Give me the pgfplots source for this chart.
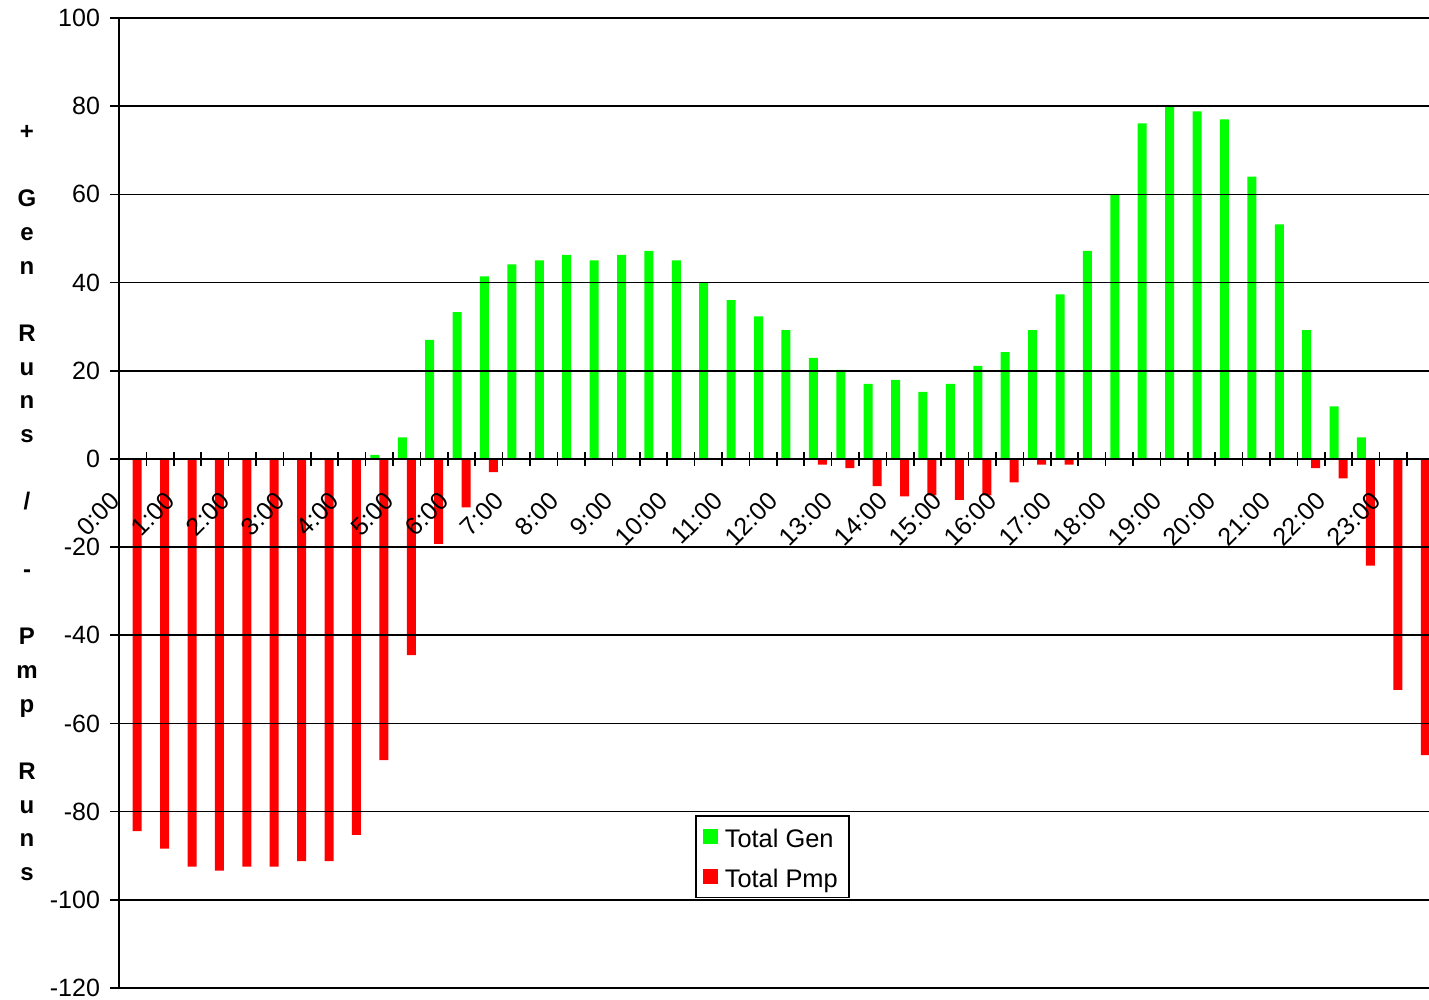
\documentclass[border=0pt]{standalone}
\usepackage{fontspec}
\setmainfont{Liberation Sans}
\usepackage{pgfplots}
\pgfplotsset{compat=1.18}
\definecolor{gen}{RGB}{0,255,0}
\definecolor{pmp}{RGB}{255,0,0}

\begin{document}
\begin{tikzpicture}
\begin{axis}[
  axis on top,
  width=655pt, height=485pt, scale only axis,
  xmin=-0.5, xmax=47.3, ymin=-120, ymax=100,
  axis x line*=middle, axis y line*=left,
  axis line style={black, line width=0.8pt},
  ybar=0pt, bar width=4.5pt,
  ytick={-120,-100,...,100},
  ymajorgrids, major grid style={black, line width=0.8pt},
  xtick={0,2,...,46},
  xticklabels={0:00,1:00,2:00,3:00,4:00,5:00,6:00,7:00,8:00,9:00,10:00,11:00,12:00,13:00,14:00,15:00,16:00,17:00,18:00,19:00,20:00,21:00,22:00,23:00},
  minor xtick={0.5,1.5,...,46.5},
  major x tick style={draw=none},
  minor x tick style={black, line width=0.8pt},
  ytick style={black, line width=0.8pt},
  xtick align=center, ytick align=outside,
  major tick length=4.5pt, minor tick length=7pt,
  /pgf/number format/assume math mode=true,
  tick label style={font=\fontsize{12.5}{14}\selectfont},
  yticklabel style={xshift=-1.5pt},
  xticklabel style={xshift=-8.5pt, yshift=-16.5pt, rotate=45, anchor=east, inner sep=0pt},
  every axis y label/.style={at={(rel axis cs:0,0.5)}, anchor=center, xshift=-46pt, align=center, font=\fontsize{12}{16.85}\selectfont\bfseries},
  ylabel={+\\[16.85pt]G\\e\\n\\[16.85pt]R\\u\\n\\s\\[16.85pt]/\\[16.85pt]-\\[16.85pt]P\\m\\p\\[16.85pt]R\\u\\n\\s},
  legend style={at={(rel axis cs:0.4397,0.1784)}, anchor=north west, draw=black, line width=0.8pt,
    font=\fontsize{12.7}{15}\selectfont, inner xsep=3.5pt, inner ysep=2pt, row sep=4pt,
    nodes={text height=11.7pt, text depth=0.7pt, inner xsep=2pt},
    /tikz/every odd column/.append style={column sep=1.5pt}},
  legend cell align=left,
]
\addplot[fill=gen, draw=none, legend image code/.code={\fill[gen] (0pt,-3.75pt) rectangle (7.5pt,3.75pt);}] coordinates {
(0,0) (1,0) (2,0) (3,0) (4,0) (5,0) (6,0) (7,0) (8,0) (9,0.9) (10,4.9) (11,27)
(12,33.3) (13,41.4) (14,44.1) (15,45) (16,46.3) (17,45) (18,46.3) (19,47.2) (20,45) (21,40) (22,36) (23,32.3)
(24,29.2) (25,22.9) (26,20.2) (27,17) (28,17.9) (29,15.2) (30,17) (31,21.1) (32,24.2) (33,29.2) (34,37.3) (35,47.2)
(36,60) (37,76.1) (38,79.8) (39,78.8) (40,77) (41,64) (42,53.2) (43,29.2) (44,11.9) (45,4.9) (46,0) (47,0)
};
\addlegendentry{Total Gen}
\addplot[fill=pmp, draw=none, legend image code/.code={\fill[pmp] (0pt,-3.75pt) rectangle (7.5pt,3.75pt);}] coordinates {
(0,-84.4) (1,-88.4) (2,-92.5) (3,-93.4) (4,-92.5) (5,-92.5) (6,-91.2) (7,-91.2) (8,-85.3) (9,-68.3) (10,-44.5) (11,-19.3)
(12,-11) (13,-3) (14,0) (15,0) (16,0) (17,0) (18,0) (19,0) (20,0) (21,0) (22,0) (23,0)
(24,0) (25,-1.3) (26,-2.1) (27,-6.2) (28,-8.5) (29,-8.3) (30,-9.3) (31,-8.3) (32,-5.3) (33,-1.3) (34,-1.3) (35,0)
(36,0) (37,0) (38,0) (39,0) (40,0) (41,0) (42,0) (43,-2.1) (44,-4.4) (45,-24.2) (46,-52.4) (47,-67.2)
};
\addlegendentry{Total Pmp}
\end{axis}
\pgfresetboundingbox
\path[use as bounding box] ([xshift=-59.5pt,yshift=-6pt]current axis.south west) rectangle ([yshift=9pt]current axis.north east);
\end{tikzpicture}
\end{document}
